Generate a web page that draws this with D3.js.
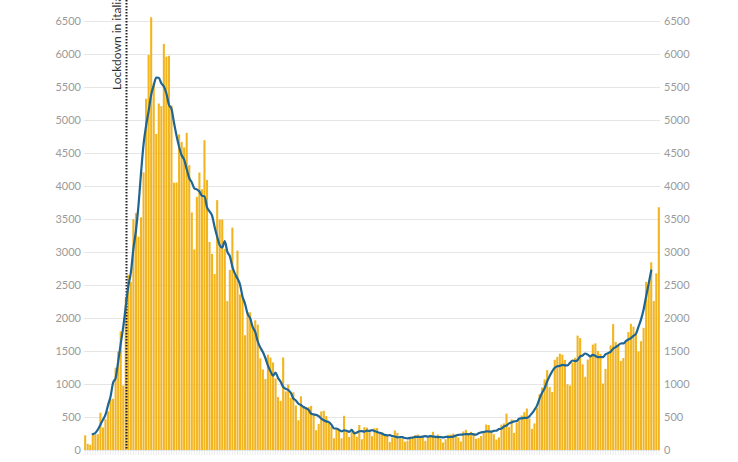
<!DOCTYPE html>
<html><head><meta charset="utf-8">
<script src="https://cdn.jsdelivr.net/npm/d3@7"></script>
<style>
html,body{margin:0;padding:0;background:#fff;}
svg{display:block;font-family:Lato,"Open Sans",sans-serif;}
</style></head>
<body><svg id="chart" width="738" height="462"></svg>
<script>
// Daily new cases (Italy), from 2020-02-24 to 2020-10-07
const startDate = "2020-02-24";
const dailyCases = [
221,93,78,250,238,240,566,342,466,587,769,778,1247,1492,1797,977,2313,2651,2547,3497,
3590,3233,3526,4207,5322,5986,6557,5560,4789,5249,5210,6153,5959,5974,5217,4050,4053,4782,4668,4585,
4805,4316,3599,3039,3836,4204,3951,4694,4092,3153,2972,2667,3786,3493,3491,3047,2256,2729,3370,2646,
3021,2357,2324,1739,2091,2086,1872,1965,1900,1389,1221,1075,1444,1401,1327,1083,802,744,1402,888,
992,789,875,675,451,813,665,642,652,669,531,300,397,584,593,516,416,355,178,318,
321,177,518,270,197,280,283,202,379,163,346,338,301,210,329,333,251,262,224,218,
122,190,296,259,175,174,126,142,187,201,223,235,192,208,138,193,229,276,188,234,
169,114,162,230,233,249,218,190,129,282,306,252,275,255,170,181,212,289,386,379,
295,239,159,190,384,402,552,347,463,259,412,481,523,574,629,479,320,403,642,845,
947,1071,1210,953,878,1367,1411,1460,1444,1365,996,978,1326,1397,1733,1695,1297,1108,1370,1434,
1597,1616,1501,1458,1008,1229,1452,1585,1907,1638,1587,1350,1392,1640,1786,1912,1869,1766,1494,1648,
1851,2548,2499,2844,2257,2677,3678
];
// 7-day average line, starting 2020-02-27
const avgStartDate = "2020-02-27";
const avgCases = [
241,258,311,384,458,535,679,812,1019,1092,1339,1608,1861,2182,2482,2687,3051,3322,3703,4194,
4632,4913,5135,5381,5525,5643,5640,5556,5507,5402,5231,5170,4958,4761,4594,4466,4401,4256,4121,4055,
3964,3948,3916,3853,3843,3676,3616,3551,3379,3230,3102,3067,3167,3005,2937,2775,2672,2598,2507,2323,
2213,2062,1997,1863,1789,1644,1552,1485,1394,1277,1193,1125,1172,1092,1034,957,927,909,867,783,
751,701,682,652,632,610,551,539,532,513,477,452,434,423,385,326,326,305,283,297,
292,275,304,253,264,284,287,277,295,289,301,289,273,261,248,229,223,224,212,205,
192,195,194,181,175,184,187,198,198,199,203,210,203,209,204,200,196,196,190,199,
196,199,202,219,230,232,236,241,238,246,236,233,253,267,273,283,280,277,290,293,
317,325,357,371,403,417,434,437,477,480,488,487,510,556,609,672,777,867,935,1039,
1120,1193,1246,1268,1274,1289,1283,1281,1320,1356,1346,1362,1418,1433,1462,1445,1418,1441,1426,1406,
1409,1407,1449,1468,1487,1535,1559,1586,1614,1615,1648,1674,1694,1731,1761,1870,1980,2130,2330,2520,
2720
];
const yTicks = [0,500,1000,1500,2000,2500,3000,3500,4000,4500,5000,5500,6000,6500];
const lockdownDate = "2020-03-11";
const lockdownLabel = "Lockdown in italia";

const parse = d3.timeParse("%Y-%m-%d");
const fmtKey = d3.timeFormat("%Y-%m-%d");
const day0 = parse(startDate);
const dates = dailyCases.map((_, i) => fmtKey(d3.timeDay.offset(day0, i)));
const avgDay0 = parse(avgStartDate);
const avgDates = avgCases.map((_, i) => fmtKey(d3.timeDay.offset(avgDay0, i)));

const svg = d3.select("#chart");
const mLeft = 84, mRight = 660, mTop = 21, mBottom = 450;

const x = d3.scaleBand().domain(dates).range([mLeft, mRight]).paddingInner(0.18).paddingOuter(0.05);
const y = d3.scaleLinear().domain([0, 6500]).range([mBottom, mTop]);

// gridlines
svg.append("g").selectAll("line").data(yTicks).join("line")
  .attr("x1", mLeft).attr("x2", mRight)
  .attr("y1", d => Math.round(y(d)) + 0.5).attr("y2", d => Math.round(y(d)) + 0.5)
  .attr("stroke", "#e6e6e6").attr("stroke-width", 1);

// left axis
const yLeft = svg.append("g").attr("transform", `translate(${mLeft - 3},0)`)
  .call(d3.axisLeft(y).tickValues(yTicks).tickSize(0).tickPadding(0).tickFormat(d3.format("d")));
yLeft.select(".domain").remove();
yLeft.selectAll("text").attr("fill", "#9a9a9a").style("font-size", "11px").style("font-family", "Lato, sans-serif");

// right axis
const yRight = svg.append("g").attr("transform", `translate(${mRight + 4},0)`)
  .call(d3.axisRight(y).tickValues(yTicks).tickSize(0).tickPadding(0).tickFormat(d3.format("d")));
yRight.select(".domain").remove();
yRight.selectAll("text").attr("fill", "#9a9a9a").style("font-size", "11px").style("font-family", "Lato, sans-serif");

// x ticks (one faint tick per day)
svg.append("g").selectAll("line").data(dates).join("line")
  .attr("x1", d => x(d) + x.bandwidth() / 2).attr("x2", d => x(d) + x.bandwidth() / 2)
  .attr("y1", mBottom + 1).attr("y2", mBottom + 5)
  .attr("stroke", "#ececec").attr("stroke-width", 1);

// bars
svg.append("g").selectAll("rect").data(dailyCases).join("rect")
  .attr("x", (d, i) => x(dates[i]))
  .attr("width", x.bandwidth())
  .attr("y", d => y(d))
  .attr("height", d => mBottom - y(d))
  .attr("fill", "#f2b51f");

// lockdown line
const lx = Math.round(x(lockdownDate) + x.bandwidth() / 2) + 0.5;
svg.append("line")
  .attr("x1", lx).attr("x2", lx).attr("y1", 0).attr("y2", mBottom)
  .attr("stroke", "#222").attr("stroke-width", 2).attr("stroke-dasharray", "1.5,1.5");
svg.append("text")
  .attr("transform", `translate(${lx - 6},90) rotate(-90)`)
  .attr("fill", "#333").style("font-size", "12px").style("font-family", "Lato, sans-serif")
  .text(lockdownLabel);

// average line
const line = d3.line()
  .x((d, i) => x(avgDates[i]) + x.bandwidth() / 2)
  .y(d => y(d))
  .curve(d3.curveMonotoneX);
svg.append("path").datum(avgCases)
  .attr("d", line).attr("fill", "none")
  .attr("stroke", "#1e6593").attr("stroke-width", 2.2)
  .attr("stroke-linejoin", "round").attr("stroke-linecap", "round");
</script></body></html>
